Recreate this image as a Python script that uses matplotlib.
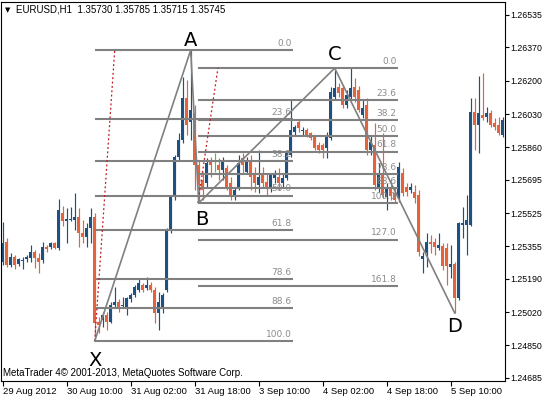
import matplotlib
matplotlib.use('Agg')
import matplotlib.pyplot as plt
import numpy as np

# EURUSD H1 candles, first bar 29 Aug 2012 18:00
opens = [1.25276, 1.25378, 1.25261, 1.25301, 1.25266, 1.25281, 1.25291, 1.25296, 1.25327, 1.25296,
         1.25286, 1.25352, 1.25352, 1.25373, 1.25347, 1.25526, 1.25485, 1.25490, 1.25490, 1.25505,
         1.25424, 1.25403, 1.25449, 1.25505, 1.24970, 1.24980, 1.25006, 1.24970, 1.25057, 1.25072,
         1.25052, 1.25046, 1.25087, 1.25108, 1.25133, 1.25159, 1.25143, 1.25159, 1.25133, 1.25016,
         1.25036, 1.25133, 1.25439, 1.25607, 1.25811, 1.25898, 1.26112, 1.25989, 1.26035, 1.25770,
         1.25694, 1.25678, 1.25785, 1.25780, 1.25770, 1.25745, 1.25755, 1.25678, 1.25612, 1.25658,
         1.25806, 1.25734, 1.25796, 1.25729, 1.25668, 1.25719, 1.25683, 1.25658, 1.25704, 1.25709,
         1.25678, 1.25704, 1.25821, 1.25938, 1.25989, 1.25943, 1.25948, 1.25933, 1.25913, 1.25872,
         1.25872, 1.25857, 1.25908, 1.26117, 1.26168, 1.26163, 1.26076, 1.26117, 1.26168, 1.26152,
         1.26025, 1.26076, 1.25847, 1.25872, 1.25658, 1.25719, 1.25607, 1.25653, 1.25627, 1.25602,
         1.25729, 1.25658, 1.25643, 1.25633, 1.25617, 1.25291, 1.25322, 1.25378, 1.25378, 1.25347,
         1.25357, 1.25347, 1.25250, 1.25266, 1.25092, 1.25464, 1.25464, 1.25464, 1.26040, 1.25974,
         1.26025, 1.26015, 1.26035, 1.25984, 1.25974, 1.25923]
highs = [1.25480, 1.25398, 1.25322, 1.25312, 1.25296, 1.25301, 1.25312, 1.25363, 1.25337, 1.25322,
         1.25378, 1.25363, 1.25378, 1.25378, 1.25597, 1.25561, 1.25551, 1.25556, 1.25627, 1.25551,
         1.25490, 1.25475, 1.25551, 1.25526, 1.24996, 1.25021, 1.25021, 1.25072, 1.25148, 1.25087,
         1.25097, 1.25097, 1.25118, 1.25159, 1.25194, 1.25169, 1.25199, 1.25174, 1.25148, 1.25123,
         1.25118, 1.25449, 1.25617, 1.25821, 1.25933, 1.26219, 1.26203, 1.26356, 1.26076, 1.25796,
         1.25734, 1.25806, 1.25811, 1.25831, 1.25806, 1.25811, 1.25770, 1.25709, 1.25658, 1.25821,
         1.25831, 1.25811, 1.25821, 1.25760, 1.25847, 1.25760, 1.25729, 1.25729, 1.25745, 1.25755,
         1.25729, 1.25836, 1.26101, 1.25974, 1.25999, 1.25964, 1.25959, 1.25938, 1.25923, 1.25887,
         1.25882, 1.25938, 1.26168, 1.26254, 1.26188, 1.26178, 1.26152, 1.26264, 1.26213, 1.26173,
         1.26101, 1.26112, 1.25923, 1.25984, 1.25780, 1.25933, 1.25678, 1.25668, 1.25653, 1.25785,
         1.25755, 1.25678, 1.25678, 1.25668, 1.25643, 1.25327, 1.25424, 1.25413, 1.25398, 1.25424,
         1.25373, 1.25373, 1.25363, 1.25276, 1.25480, 1.25556, 1.25617, 1.26112, 1.26112, 1.26224,
         1.26239, 1.26066, 1.26050, 1.26010, 1.26015, 1.26015]
lows = [1.25261, 1.25250, 1.25250, 1.25240, 1.25255, 1.25240, 1.25276, 1.25276, 1.25245, 1.25220,
        1.25271, 1.25327, 1.25342, 1.25342, 1.25337, 1.25459, 1.25373, 1.25485, 1.25439, 1.25352,
        1.25373, 1.25352, 1.25373, 1.24873, 1.24914, 1.24945, 1.24929, 1.24965, 1.25046, 1.25021,
        1.25041, 1.25006, 1.25072, 1.25097, 1.25123, 1.25123, 1.25133, 1.25123, 1.24965, 1.24929,
        1.25016, 1.25123, 1.25424, 1.25592, 1.25796, 1.25882, 1.25923, 1.25898, 1.25643, 1.25576,
        1.25592, 1.25658, 1.25709, 1.25734, 1.25694, 1.25694, 1.25643, 1.25592, 1.25592, 1.25643,
        1.25729, 1.25729, 1.25643, 1.25633, 1.25627, 1.25653, 1.25617, 1.25633, 1.25678, 1.25643,
        1.25658, 1.25694, 1.25811, 1.25923, 1.25938, 1.25923, 1.25913, 1.25898, 1.25847, 1.25831,
        1.25806, 1.25806, 1.25898, 1.26101, 1.26117, 1.26061, 1.26061, 1.26101, 1.26091, 1.26040,
        1.26010, 1.25821, 1.25821, 1.25643, 1.25633, 1.25602, 1.25541, 1.25592, 1.25576, 1.25582,
        1.25612, 1.25612, 1.25627, 1.25576, 1.25306, 1.25220, 1.25250, 1.25322, 1.25312, 1.25337,
        1.25235, 1.25159, 1.25194, 1.25016, 1.25082, 1.25398, 1.25312, 1.25459, 1.25847, 1.25831,
        1.25999, 1.25989, 1.25964, 1.25948, 1.25923, 1.25913]
closes = [1.25373, 1.25261, 1.25301, 1.25261, 1.25291, 1.25286, 1.25301, 1.25327, 1.25296, 1.25276,
          1.25352, 1.25342, 1.25373, 1.25347, 1.25541, 1.25485, 1.25495, 1.25495, 1.25505, 1.25424,
          1.25403, 1.25449, 1.25505, 1.24965, 1.24955, 1.25006, 1.24970, 1.25057, 1.25072, 1.25046,
          1.25057, 1.25092, 1.25108, 1.25148, 1.25169, 1.25133, 1.25159, 1.25133, 1.25016, 1.25072,
          1.25108, 1.25439, 1.25607, 1.25811, 1.25898, 1.26112, 1.25974, 1.26050, 1.25770, 1.25668,
          1.25643, 1.25780, 1.25770, 1.25780, 1.25745, 1.25785, 1.25658, 1.25617, 1.25643, 1.25780,
          1.25770, 1.25796, 1.25709, 1.25678, 1.25709, 1.25678, 1.25653, 1.25719, 1.25729, 1.25678,
          1.25704, 1.25831, 1.25948, 1.25964, 1.25959, 1.25948, 1.25923, 1.25908, 1.25857, 1.25847,
          1.25847, 1.25923, 1.26142, 1.26163, 1.26137, 1.26076, 1.26127, 1.26163, 1.26117, 1.26050,
          1.26061, 1.25847, 1.25887, 1.25668, 1.25729, 1.25617, 1.25653, 1.25612, 1.25592, 1.25760,
          1.25627, 1.25633, 1.25658, 1.25602, 1.25327, 1.25306, 1.25378, 1.25368, 1.25352, 1.25363,
          1.25255, 1.25255, 1.25266, 1.25092, 1.25475, 1.25475, 1.25490, 1.26040, 1.25974, 1.26035,
          1.26010, 1.26035, 1.25974, 1.25964, 1.25933, 1.25999]

# time axis, one label every 16 bars
time_ticks = [0, 16, 32, 48, 64, 80, 96, 112]
time_labels = ['29 Aug 2012', '30 Aug 10:00', '31 Aug 02:00', '31 Aug 18:00',
               '3 Sep 10:00', '4 Sep 02:00', '4 Sep 18:00', '5 Sep 10:00']
price_ticks = [1.26535, 1.26370, 1.26200, 1.26030, 1.25860, 1.25695,
               1.25525, 1.25355, 1.25190, 1.25020, 1.24850, 1.24685]

# XABCD pattern points (bar index, price)
pattern_names = ['X', 'A', 'B', 'C', 'D']
pattern_bars = [23, 47, 49, 83, 113]
pattern_prices = [1.24873, 1.26356, 1.25576, 1.26264, 1.25016]

# fibonacci levels in percent
xa_levels = [0.0, 23.6, 38.2, 50.0, 61.8, 78.6, 88.6, 100.0]
bc_levels = [0.0, 23.6, 38.2, 50.0, 61.8, 78.6, 88.6, 100.0, 127.0, 161.8]

BLUE = '#1f5080'
ORANGE = '#e5633a'
GREEN = '#3ccc3c'
GREY = '#808080'
LABEL_GREY = '#8c8c8c'

fig = plt.figure(figsize=(5.44, 3.97), dpi=100)
ax = fig.add_axes([1 / 544, 16 / 397, 504 / 544, 379 / 397])

""" ******* candles ******** """
o = np.array(opens)
h = np.array(highs)
l = np.array(lows)
c = np.array(closes)
x = np.arange(len(o))
colors = np.where(c > o, BLUE, ORANGE)
colors[c == o] = GREEN
ax.vlines(x, l, h, colors=colors, linewidth=0.85, zorder=2)
ax.bar(x, np.maximum(np.abs(c - o), 0.00002), bottom=np.minimum(o, c), width=0.78,
       color=colors, linewidth=0, zorder=2)

""" ******* fibonacci levels ******** """
xX, xA, xB, xC, xD = pattern_bars
pX, pA, pB, pC, pD = pattern_prices


def fib(levels, p0, p100, start, end):
    for lev in levels:
        p = p0 - lev / 100 * (p0 - p100)
        ax.hlines(p, start, end, color=GREY, linewidth=1.5, zorder=3)
        ax.annotate('%.1f' % lev, (end, p), xytext=(-1, 1.5), textcoords='offset points',
                    ha='right', va='bottom', fontsize=6.5, color=LABEL_GREY,
                    family='DejaVu Sans', zorder=3)


fib(xa_levels, pA, pX, xX, 72.6)
fib(bc_levels, pC, pB, xB - 0.2, 98.8)

# red dotted helper lines
ax.plot([xX, xX + 5], [pX, pA], color='#c0171b', linestyle=(0, (1.5, 2)), linewidth=0.9, zorder=3)
ax.plot([xB - 0.2, xB + 4.8], [pB, pC], color='#c0171b', linestyle=(0, (1.5, 2)), linewidth=0.9, zorder=3)

# XABCD zigzag
ax.plot(pattern_bars, pattern_prices, color=GREY, linewidth=1.2, zorder=4)

offsets = {'X': (0, -7, 'top'), 'A': (0, 0, 'bottom'), 'B': (2, -5, 'top'),
           'C': (0, 3, 'bottom'), 'D': (0, -3, 'top')}
for name, b, p in zip(pattern_names, pattern_bars, pattern_prices):
    dx, dy, va = offsets[name]
    ax.annotate(name, (b, p), xytext=(dx, dy), textcoords='offset points',
                ha='center', va=va, fontsize=14, color='black', zorder=5)

""" ******* axes ******** """
ax.set_xlim(-0.43, 125.58)
ax.set_ylim(1.24669, 1.26601)
ax.yaxis.tick_right()
ax.set_yticks(price_ticks)
ax.set_yticklabels(['%.5f' % p for p in price_ticks])
ax.set_xticks(time_ticks)
ax.set_xticklabels(time_labels)
ax.tick_params(axis='x', direction='out', length=3.5, width=0.8, labelsize=6.8, pad=1)
ax.tick_params(axis='y', direction='out', length=3, width=0.8, labelsize=6.3, pad=0.5)
for t in ax.get_xticklabels():
    t.set_horizontalalignment('left')
    t.set_family('Liberation Sans')
for t in ax.get_yticklabels():
    t.set_family('Liberation Sans')
for s in ax.spines.values():
    s.set_linewidth(0.8)

fig.text(5 / 544, 1 - 10 / 397, '\u25BC', fontsize=5, va='center', ha='left')
fig.text(16 / 544, 1 - 10 / 397, 'EURUSD,H1  1.35730 1.35785 1.35715 1.35745',
         fontsize=7, va='center', ha='left', family='Liberation Sans')
fig.text(3 / 544, 1 - 373 / 397, 'MetaTrader 4\u00a9 2001-2013, MetaQuotes Software Corp.',
         fontsize=7, va='center', ha='left', family='Liberation Sans')

plt.savefig('out.png', dpi=100)
